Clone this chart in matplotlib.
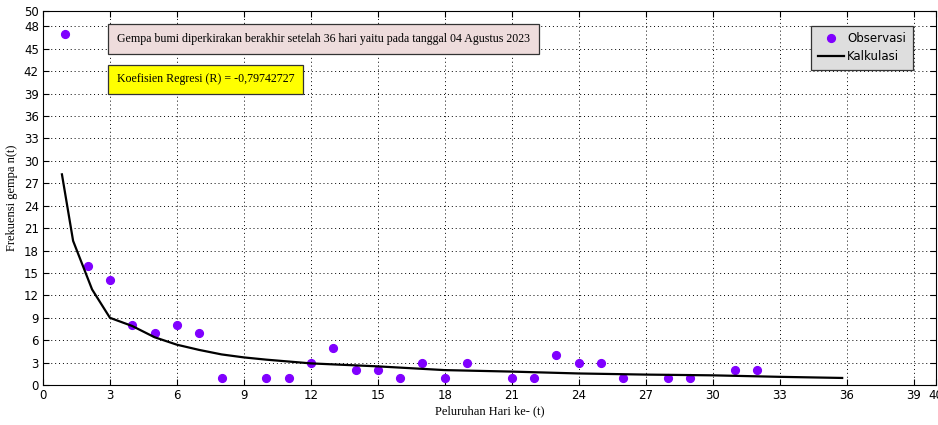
import matplotlib
matplotlib.use('Agg')
import matplotlib.pyplot as plt

# observed earthquake counts per day
t_obs = [1, 2, 3, 4, 5, 6, 7, 8, 10, 11, 12, 13, 14, 15, 16, 17, 18, 19,
         21, 22, 23, 24, 25, 26, 28, 29, 31, 32]
n_obs = [47, 16, 14, 8, 7, 8, 7, 1, 1, 1, 3, 5, 2, 2, 1, 3, 1, 3,
         1, 1, 4, 3, 3, 1, 1, 1, 2, 2]

# calculated decay curve
t_calc = [0.85, 1.35, 2.2, 3, 4, 5, 6, 7, 8, 9, 10, 12, 15, 18, 21, 24, 27, 30, 33, 35.8]
n_calc = [28.2, 19.3, 12.8, 9.0, 7.9, 6.4, 5.4, 4.7, 4.1, 3.7, 3.4, 2.9, 2.5, 2.0,
          1.8, 1.55, 1.4, 1.3, 1.1, 0.95]

xticks = [0, 3, 6, 9, 12, 15, 18, 21, 24, 27, 30, 33, 36, 39, 40]
yticks = [0, 3, 6, 9, 12, 15, 18, 21, 24, 27, 30, 33, 36, 39, 42, 45, 48, 50]

info_text = 'Gempa bumi diperkirakan berakhir setelah 36 hari yaitu pada tanggal 04 Agustus 2023'
r_text = 'Koefisien Regresi (R) = -0,79742727'

fig = plt.figure(figsize=(9.38, 4.25), dpi=100)
ax = fig.add_axes([0.0458, 0.094, 0.952, 0.879])

ax.plot(t_obs, n_obs, 'o', color='#8000ff', markersize=5.6, label='Observasi')
ax.plot(t_calc, n_calc, '-', color='black', linewidth=1.6, label='Kalkulasi')

ax.set_xlim(0, 40)
ax.set_ylim(0, 50)
ax.set_xticks(xticks)
ax.set_yticks(yticks)
ax.tick_params(direction='in', top=True, right=True, labelsize=8.5, length=4, pad=3)
ax.grid(True, linestyle=(0, (1, 3)), color='black', linewidth=0.7)

serif = 'Liberation Serif'
ax.set_xlabel('Peluruhan Hari ke- (t)', family=serif, fontsize=9, labelpad=2)
ax.set_ylabel('Frekuensi gempa n(t)', family=serif, fontsize=9, labelpad=4)

ax.text(3.3, 46.3, info_text, family=serif, fontsize=8.6, va='center', ha='left',
        bbox=dict(boxstyle='square,pad=0.75', facecolor='#eedcdc', edgecolor='#333333', linewidth=0.9))
ax.text(3.3, 40.9, r_text, family=serif, fontsize=8.6, va='center', ha='left',
        bbox=dict(boxstyle='square,pad=0.75', facecolor='#ffff00', edgecolor='#333333', linewidth=0.9))

leg = ax.legend(loc='upper right', bbox_to_anchor=(0.974, 0.962), borderaxespad=0,
                fontsize=8.5, fancybox=False, framealpha=1, edgecolor='#333333',
                handlelength=2.2, handletextpad=0.3, borderpad=0.55, labelspacing=0.45)
leg.get_frame().set_facecolor('#dedede')
leg.get_frame().set_linewidth(0.9)

fig.savefig('out.png', dpi=100)
